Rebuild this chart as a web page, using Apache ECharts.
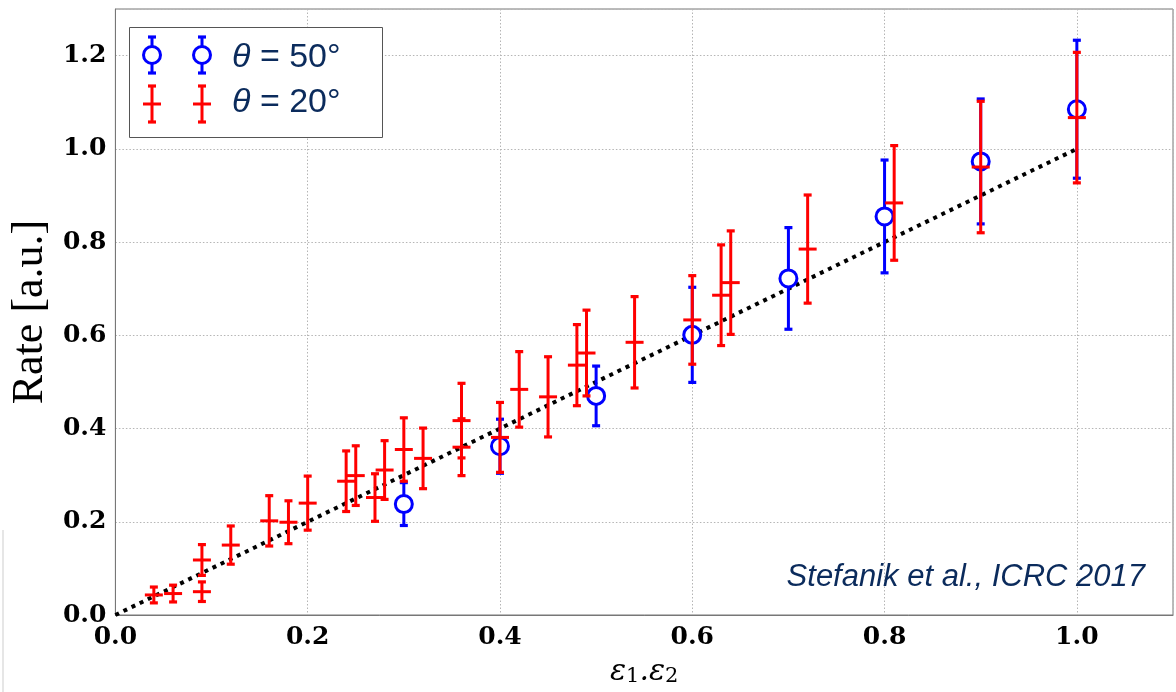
<!DOCTYPE html>
<html>
<head>
<meta charset="utf-8">
<script src="https://cdn.jsdelivr.net/npm/echarts@6/dist/echarts.min.js"></script>
<style>html,body{margin:0;padding:0;background:#fff;}#c{width:1176px;height:692px;}</style>
</head>
<body>
<div id="c"></div>
<script>
// ---- data ----
const xTicks = [0.0, 0.2, 0.4, 0.6, 0.8, 1.0];
const yTicks = [0.0, 0.2, 0.4, 0.6, 0.8, 1.0, 1.2];

const blueX   = [0.30, 0.40, 0.50, 0.60, 0.70, 0.80, 0.90, 1.00];
const blueY   = [0.238, 0.362, 0.470, 0.601, 0.722, 0.855, 0.973, 1.085];
const blueErr = [0.046, 0.058, 0.064, 0.102, 0.109, 0.121, 0.134, 0.148];

const redX   = [0.04, 0.06, 0.09, 0.09, 0.12, 0.16, 0.18, 0.20, 0.24, 0.25, 0.27, 0.28, 0.30, 0.32, 0.36, 0.36, 0.40, 0.42, 0.45, 0.48, 0.49, 0.54, 0.60, 0.63, 0.64, 0.72, 0.81, 0.90, 1.00];
const redY   = [0.043, 0.046, 0.050, 0.118, 0.150, 0.202, 0.199, 0.240, 0.287, 0.299, 0.252, 0.311, 0.355, 0.336, 0.417, 0.360, 0.381, 0.484, 0.468, 0.536, 0.562, 0.585, 0.633, 0.686, 0.713, 0.785, 0.884, 0.961, 1.067];
const redErr = [0.017, 0.018, 0.021, 0.033, 0.041, 0.054, 0.046, 0.058, 0.065, 0.064, 0.051, 0.063, 0.068, 0.065, 0.080, 0.061, 0.075, 0.081, 0.086, 0.087, 0.092, 0.098, 0.095, 0.108, 0.111, 0.116, 0.123, 0.141, 0.140];

const fitX = [0, 1];
const fitY = [0, 1];

const legendLabels = ['50°', '20°'];
const creditText = 'Stefanik et al., ICRC 2017';

// ---- chart ----
const BLUE = '#0000ff', RED = '#ff0000', NAVY = '#0b2b5c';
const LW = 3, CAP = 4, CIRC_R = 8.5, CROSS = 9;
const chart = echarts.init(document.getElementById('c'), null, {renderer: 'canvas'});

function zip3(a, b, c) { return a.map((v, i) => [v, b[i], c[i]]); }

function markerShapes(kind, px, py, ty, by, z) {
  const color = kind === 'blue' ? BLUE : RED;
  const st = {stroke: color, lineWidth: LW, fill: null};
  const kids = [
    {type: 'line', z: z, shape: {x1: px, y1: ty, x2: px, y2: by}, style: st},
    {type: 'line', z: z, shape: {x1: px - CAP, y1: ty, x2: px + CAP, y2: ty}, style: {stroke: color, lineWidth: 3.2}},
    {type: 'line', z: z, shape: {x1: px - CAP, y1: by, x2: px + CAP, y2: by}, style: {stroke: color, lineWidth: 3.2}}
  ];
  if (kind === 'blue') {
    kids.push({type: 'circle', z: z, shape: {cx: px, cy: py, r: CIRC_R}, style: {stroke: color, lineWidth: 3, fill: '#ffffff'}});
  } else {
    kids.push({type: 'line', z: z, shape: {x1: px - CROSS, y1: py, x2: px + CROSS, y2: py}, style: st});
  }
  return kids;
}

function errItem(kind) {
  return function (params, api) {
    const x = api.value(0), y = api.value(1), e = api.value(2);
    const p = api.coord([x, y]);
    const t = api.coord([x, y + e]);
    const b = api.coord([x, y - e]);
    return {type: 'group', children: markerShapes(kind, p[0], p[1], t[1], b[1])};
  };
}

function tickFmt(list) {
  return function (v) {
    for (const t of list) { if (Math.abs(t - v) < 1e-6) return t.toFixed(1); }
    return '';
  };
}

const legendRich = {
  th: {fontFamily: 'Liberation Sans', fontStyle: 'italic', fontSize: 34, fill: NAVY},
  n: {fontFamily: 'Liberation Sans', fontSize: 34, fill: NAVY}
};

const graphics = [
  {type: 'rect', z: 100, shape: {x: 129.5, y: 27.5, width: 253, height: 110}, style: {fill: '#fff', stroke: '#555', lineWidth: 1}}
];
[['blue', 152, 55], ['blue', 202, 55], ['red', 152, 104], ['red', 202, 104]].forEach(m => {
  markerShapes(m[0], m[1], m[2], m[2] - 18, m[2] + 18, 101).forEach(s => graphics.push(s));
});
graphics.push(
  {type: 'text', x: 232, y: 58, z: 102, style: {text: '{th|θ}{n| = ' + legendLabels[0] + '}', rich: legendRich, verticalAlign: 'middle'}},
  {type: 'text', x: 232, y: 103, z: 102, style: {text: '{th|θ}{n| = ' + legendLabels[1] + '}', rich: legendRich, verticalAlign: 'middle'}},
  {type: 'text', x: 1145, y: 577, z: 102, style: {text: creditText, fontFamily: 'Liberation Sans', fontStyle: 'italic', fontSize: 31, fill: NAVY, align: 'right', verticalAlign: 'middle'}},
  {type: 'line', shape: {x1: 3, y1: 530, x2: 3, y2: 692}, style: {stroke: '#e6e6e6', lineWidth: 2}}
);

const option = {
  backgroundColor: '#ffffff',
  animation: false,
  grid: {left: 111, right: -2, top: 9, bottom: 72, show: true, borderColor: '#777', borderWidth: 1, containLabel: false},
  xAxis: {
    type: 'value', min: 0, max: 1.1, interval: 0.2,
    axisLine: {show: true, onZero: false, lineStyle: {color: '#777', width: 1}},
    axisTick: {show: false},
    splitLine: {show: true, lineStyle: {color: '#b5b5b5', type: [1.5, 2], width: 1}},
    axisLabel: {formatter: tickFmt(xTicks), color: '#000', fontFamily: 'DejaVu Serif', fontWeight: 'bold', fontSize: 25, margin: 10},
    name: '{e|ε}{s|1}{e|.ε}{s|2}', nameLocation: 'middle', nameGap: 38,
    nameTextStyle: {
      color: '#000',
      rich: {
        e: {fontFamily: 'DejaVu Serif', fontStyle: 'italic', fontSize: 30, lineHeight: 34, color: '#000', verticalAlign: 'bottom'},
        s: {fontFamily: 'DejaVu Serif', fontSize: 21, lineHeight: 22, color: '#000', verticalAlign: 'bottom'}
      }
    }
  },
  yAxis: {
    type: 'value', min: 0, max: 1.3, interval: 0.2,
    axisLine: {show: true, onZero: false, lineStyle: {color: '#777', width: 1}},
    axisTick: {show: false},
    splitLine: {show: true, lineStyle: {color: '#b5b5b5', type: [1.5, 2], width: 1}},
    axisLabel: {formatter: tickFmt(yTicks), color: '#000', fontFamily: 'DejaVu Serif', fontWeight: 'bold', fontSize: 25, margin: 9},
    name: 'Rate [a.u.]', nameLocation: 'middle', nameGap: 50, nameRotate: 90,
    nameTextStyle: {fontFamily: 'Liberation Serif', fontSize: 44, color: '#000'}
  },
  series: [
    {
      type: 'line', data: fitX.map((v, i) => [v, fitY[i]]), symbol: 'none', z: 3,
      lineStyle: {color: '#000', width: 4, type: [4, 5]}
    },
    {type: 'custom', data: zip3(blueX, blueY, blueErr), renderItem: errItem('blue'), z: 4, clip: false},
    {type: 'custom', data: zip3(redX, redY, redErr), renderItem: errItem('red'), z: 5, clip: false}
  ],
  graphic: graphics
};
chart.setOption(option);
</script>
</body>
</html>
